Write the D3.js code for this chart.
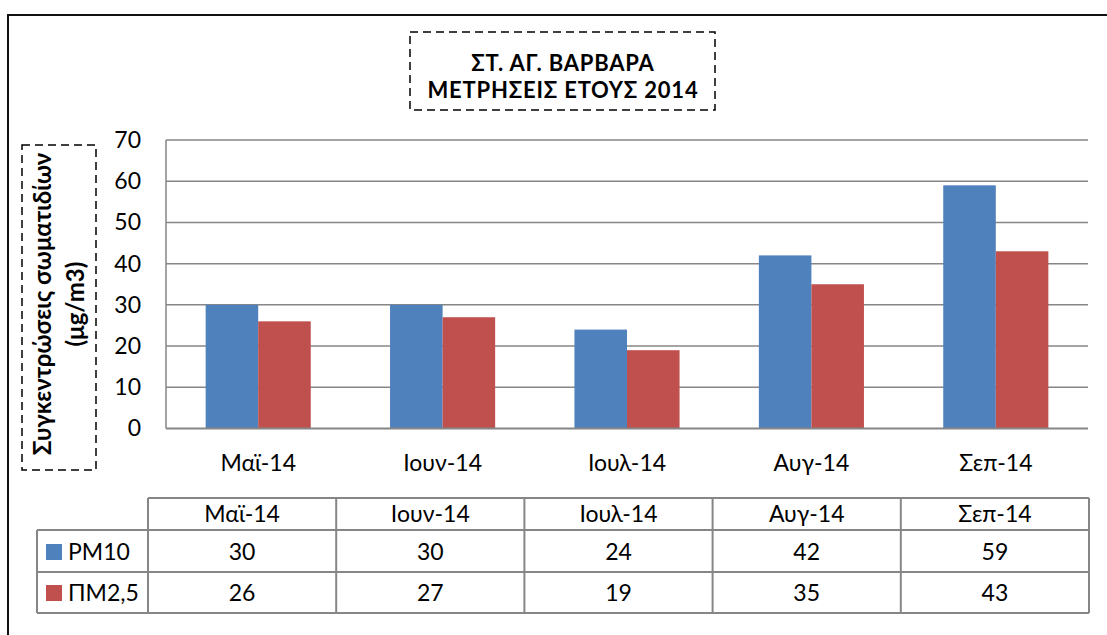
<!DOCTYPE html>
<html><head><meta charset="utf-8">
<script src="https://cdn.jsdelivr.net/npm/d3@7"></script>
<style>body{margin:0;background:#fff}svg{display:block;font-family:Lato,"Open Sans",sans-serif}</style>
</head><body><svg id="c" width="1107" height="635"></svg>
<script>
const categories = ["Μαϊ-14","Ιουν-14","Ιουλ-14","Αυγ-14","Σεπ-14"];
const pm10 = [30,30,24,42,59];
const pm25 = [26,27,19,35,43];
const seriesNames = ["PM10","ΠΜ2,5"];
const seriesColors = ["#4F81BD","#C0504D"];
const yTicks = [0,10,20,30,40,50,60,70];
const titleLines = ["ΣΤ. ΑΓ. ΒΑΡΒΑΡΑ","ΜΕΤΡΗΣΕΙΣ ΕΤΟΥΣ 2014"];
const yLabelLines = ["Συγκεντρώσεις σωματιδίων","(μg/m3)"];

const svg = d3.select("#c");
const grid = "#868686";
const FS = 23;

// outer frame
svg.append("rect").attr("x",8).attr("y",15).attr("width",1120).attr("height",640)
  .attr("fill","none").attr("stroke","#111").attr("stroke-width",2);

const L=166,R=1088,T=140,B=428.5;
const x = d3.scaleBand().domain(categories).range([L,R]).paddingInner(0.43).paddingOuter(0.215);
const x1 = d3.scaleBand().domain(seriesNames).range([0,x.bandwidth()]);
const y = d3.scaleLinear().domain([0,70]).range([B,T]);

// gridlines
svg.append("g").selectAll("line").data(yTicks.filter(d=>d>0)).join("line")
  .attr("x1",L).attr("x2",R).attr("y1",d=>y(d)).attr("y2",d=>y(d))
  .attr("stroke",grid).attr("stroke-width",1.5);

const series = [pm10,pm25];
series.forEach((vals,si)=>{
  svg.append("g").selectAll("rect").data(vals).join("rect")
    .attr("x",(d,i)=>x(categories[i])+x1(seriesNames[si]))
    .attr("width",x1.bandwidth())
    .attr("y",d=>y(d)).attr("height",d=>B-y(d))
    .attr("fill",seriesColors[si]);
});

// axes lines
svg.append("line").attr("x1",L).attr("x2",L).attr("y1",T).attr("y2",B).attr("stroke",grid).attr("stroke-width",1.5);
svg.append("line").attr("x1",L).attr("x2",R).attr("y1",B).attr("y2",B).attr("stroke",grid).attr("stroke-width",2);

// y tick labels
const yAxis = d3.axisLeft(y).tickValues(yTicks).tickSize(0).tickPadding(25);
const ya = svg.append("g").attr("transform",`translate(${L},0)`).call(yAxis);
ya.select(".domain").remove();
ya.selectAll("text").attr("font-size",FS).attr("font-family","Lato").attr("fill","#000");

// x labels
const xAxis = d3.axisBottom(x).tickSize(0).tickPadding(26);
const xa = svg.append("g").attr("transform",`translate(0,${B})`).call(xAxis);
xa.select(".domain").remove();
xa.selectAll("text").attr("font-size",FS).attr("font-family","Lato").attr("fill","#000");

// data table
const tx = d3.scaleBand().domain(categories).range([148,1089]);
const rowTops = [498,530,572,613];
const tg = svg.append("g").attr("stroke",grid).attr("stroke-width",2).attr("fill","none");
tg.append("line").attr("x1",148).attr("x2",1089).attr("y1",rowTops[0]).attr("y2",rowTops[0]);
tg.append("line").attr("x1",37).attr("x2",1089).attr("y1",rowTops[1]).attr("y2",rowTops[1]);
tg.append("line").attr("x1",37).attr("x2",1089).attr("y1",rowTops[2]).attr("y2",rowTops[2]);
tg.append("line").attr("x1",37).attr("x2",1089).attr("y1",rowTops[3]).attr("y2",rowTops[3]);
tg.append("line").attr("x1",37).attr("x2",37).attr("y1",rowTops[1]).attr("y2",rowTops[3]);
const colEdges = categories.map(c=>tx(c)).concat([1089]);
tg.selectAll("line.v").data(colEdges).join("line").attr("class","v")
  .attr("x1",d=>d).attr("x2",d=>d).attr("y1",rowTops[0]).attr("y2",rowTops[3]);

const tt = svg.append("g").attr("font-size",FS).attr("font-family","Lato").attr("fill","#000").attr("text-anchor","middle");
tt.selectAll("text.h").data(categories).join("text").attr("class","h")
  .attr("x",d=>tx(d)+tx.bandwidth()/2).attr("y",522).text(d=>d);
const rowBase = [560,601];
series.forEach((vals,si)=>{
  tt.selectAll("text.r"+si).data(vals).join("text").attr("class","r"+si)
    .attr("x",(d,i)=>tx(categories[i])+tx.bandwidth()/2).attr("y",rowBase[si]).text(d=>d);
  svg.append("rect").attr("x",46).attr("y",rowBase[si]-16).attr("width",16).attr("height",16).attr("fill",seriesColors[si]);
  svg.append("text").attr("x",68).attr("y",rowBase[si]).attr("font-size",FS).attr("font-family","Lato").text(seriesNames[si]);
});

// title box
svg.append("rect").attr("x",410).attr("y",32).attr("width",305).attr("height",78)
  .attr("fill","none").attr("stroke","#000").attr("stroke-width",1.5).attr("stroke-dasharray","8,5");
svg.append("g").attr("text-anchor","middle").attr("font-weight","bold").attr("font-size",22).attr("letter-spacing",0.8).attr("font-family","Lato")
  .selectAll("text").data(titleLines).join("text").attr("x",563).attr("y",(d,i)=>71+i*27).text(d=>d);

// y label box
svg.append("rect").attr("x",22).attr("y",145).attr("width",74).attr("height",325)
  .attr("fill","none").attr("stroke","#000").attr("stroke-width",1.5).attr("stroke-dasharray","8,5");
const yl = svg.append("g").attr("transform","translate(0,304) rotate(-90)")
  .attr("text-anchor","middle").attr("font-weight","bold").attr("font-size",24).attr("font-family","Lato");
yl.selectAll("text").data(yLabelLines).join("text").attr("x",0).attr("y",(d,i)=>51+i*33).text(d=>d);
</script></body></html>
